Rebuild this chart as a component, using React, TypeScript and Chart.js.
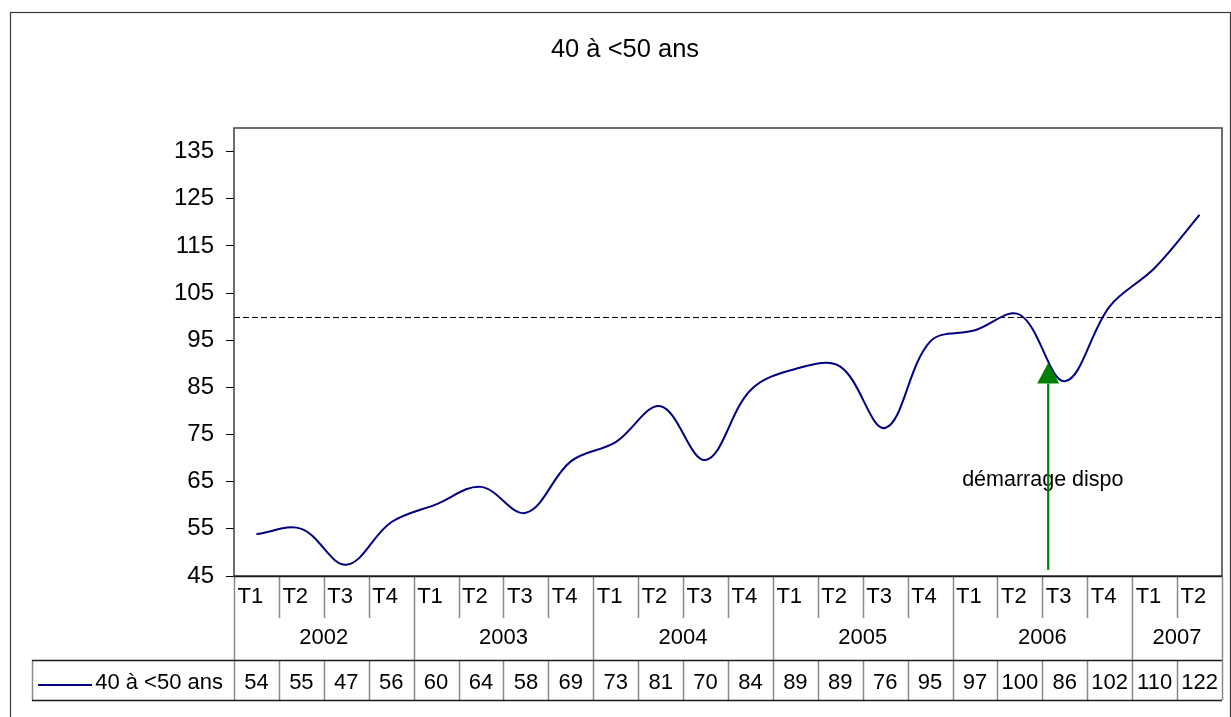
import React, { useEffect, useRef } from "react";
import { Chart, registerables } from "chart.js";

Chart.register(...registerables);

// ---- data ----
const chartTitle = "40 à <50 ans";
const seriesName = "40 à <50 ans";
const quarterLabels = [
  "T1", "T2", "T3", "T4",
  "T1", "T2", "T3", "T4",
  "T1", "T2", "T3", "T4",
  "T1", "T2", "T3", "T4",
  "T1", "T2", "T3", "T4",
  "T1", "T2",
];
const yearLabels = ["2002", "2003", "2004", "2005", "2006", "2007"];
const quartersPerYear = [4, 4, 4, 4, 4, 2];
const seriesValues = [
  53.9, 55.0, 47.4, 56.4,
  60.2, 63.9, 58.4, 69.3,
  73.4, 81.0, 69.6, 84.4,
  88.9, 89.4, 76.4, 94.7,
  97.1, 100.4, 86.3, 102.2,
  110.3, 121.6,
];
const yTickValues = [45, 55, 65, 75, 85, 95, 105, 115, 125, 135];
const yMin = 45;
const yMax = 140;
const referenceValue = 100;
const annotationText = "démarrage dispo";
const arrowCategory = 17.63;
const arrowFrom = 46.3;
const arrowBase = 85.8;
const arrowTip = 90.2;
const annotationCategory = 17.51;
const annotationValue = 64.1;

const FONT = '"Liberation Sans", Arial, sans-serif';

const excelPlugin = {
  id: "excelDecor",
  beforeDatasetsDraw(chart: any) {
    const { ctx, chartArea, scales } = chart;
    const yy = Math.round(scales.y.getPixelForValue(referenceValue)) + 0.5;
    ctx.save();
    ctx.strokeStyle = "#000";
    ctx.lineWidth = 1;
    ctx.setLineDash([6, 3]);
    ctx.beginPath();
    ctx.moveTo(chartArea.left, yy);
    ctx.lineTo(chartArea.right, yy);
    ctx.stroke();
    ctx.restore();
  },
  afterDatasetsDraw(chart: any) {
    const { ctx, scales } = chart;
    const x = scales.x;
    const y = scales.y;
    ctx.save();
    // annotation text
    ctx.fillStyle = "#000";
    ctx.font = `21.5px ${FONT}`;
    ctx.textAlign = "center";
    ctx.textBaseline = "alphabetic";
    ctx.fillText(annotationText, x.getPixelForValue(annotationCategory), y.getPixelForValue(annotationValue));
    // arrow
    const ax = x.getPixelForValue(arrowCategory);
    ctx.strokeStyle = "#008000";
    ctx.fillStyle = "#008000";
    ctx.lineWidth = 2.2;
    ctx.beginPath();
    ctx.moveTo(ax, y.getPixelForValue(arrowFrom));
    ctx.lineTo(ax, y.getPixelForValue(arrowBase));
    ctx.stroke();
    const by = y.getPixelForValue(arrowBase);
    const ty = y.getPixelForValue(arrowTip);
    ctx.beginPath();
    ctx.moveTo(ax - 11, by);
    ctx.lineTo(ax + 11, by);
    ctx.lineTo(ax, ty);
    ctx.closePath();
    ctx.fill();
    ctx.restore();
  },
  afterDraw(chart: any) {
    const { ctx, chartArea, scales } = chart;
    const { left, right, top, bottom } = chartArea;
    const x = scales.x;
    const n = quarterLabels.length;
    const w = x.getPixelForValue(1) - x.getPixelForValue(0);
    const edge = (i: number) => x.getPixelForValue(i) - w / 2;
    const rowT = bottom + 42;
    const rowY = bottom + 84;
    const rowV = bottom + 124;
    const legendLeft = 32;
    ctx.save();

    // outer chart border
    ctx.strokeStyle = "#3a3a3a";
    ctx.lineWidth = 1.2;
    ctx.strokeRect(10.5, 12.5, 1220, 730);

    // title
    ctx.fillStyle = "#000";
    ctx.font = `25.5px ${FONT}`;
    ctx.textAlign = "center";
    ctx.textBaseline = "alphabetic";
    ctx.fillText(chartTitle, 625, 56.5);

    // plot frame
    ctx.strokeStyle = "#404040";
    ctx.lineWidth = 1.5;
    ctx.strokeRect(left, top, right - left, bottom - top);

    // vertical separators (gray)
    ctx.strokeStyle = "#8a8a8a";
    ctx.lineWidth = 1.5;
    const yearEdges: number[] = [0];
    let acc = 0;
    quartersPerYear.forEach((q) => {
      acc += q;
      yearEdges.push(acc);
    });
    for (let i = 0; i <= n; i++) {
      const px = Math.round(edge(i)) + 0.5;
      const isYear = yearEdges.includes(i);
      ctx.beginPath();
      if (isYear) {
        ctx.moveTo(px, bottom);
        ctx.lineTo(px, rowV);
      } else {
        ctx.moveTo(px, bottom);
        ctx.lineTo(px, rowT);
        ctx.moveTo(px, rowY);
        ctx.lineTo(px, rowV);
      }
      ctx.stroke();
    }
    // legend cell left edge
    ctx.beginPath();
    ctx.moveTo(legendLeft + 0.5, rowY);
    ctx.lineTo(legendLeft + 0.5, rowV);
    ctx.stroke();

    // horizontal lines (dark)
    ctx.strokeStyle = "#1a1a1a";
    ctx.lineWidth = 1.3;
    ctx.beginPath();
    ctx.moveTo(left, bottom + 0.5);
    ctx.lineTo(right, bottom + 0.5);
    ctx.moveTo(legendLeft, rowY + 0.5);
    ctx.lineTo(right, rowY + 0.5);
    ctx.moveTo(legendLeft, rowV + 0.5);
    ctx.lineTo(right, rowV + 0.5);
    ctx.stroke();

    // texts
    ctx.fillStyle = "#000";
    ctx.font = `22px ${FONT}`;
    ctx.textBaseline = "alphabetic";
    ctx.textAlign = "left";
    quarterLabels.forEach((lab, i) => {
      ctx.fillText(lab, edge(i) + 3.5, bottom + 27);
    });
    ctx.textAlign = "center";
    yearLabels.forEach((lab, k) => {
      const cx = (edge(yearEdges[k]) + edge(yearEdges[k + 1])) / 2;
      ctx.fillText(lab, cx, bottom + 68);
    });
    seriesValues.forEach((v, i) => {
      ctx.fillText(String(Math.round(v)), x.getPixelForValue(i), bottom + 113);
    });
    // legend key
    ctx.textAlign = "right";
    ctx.fillText(seriesName, left - 11, bottom + 113);
    ctx.strokeStyle = "#000080";
    ctx.lineWidth = 2;
    ctx.beginPath();
    ctx.moveTo(38, bottom + 109);
    ctx.lineTo(92, bottom + 109);
    ctx.stroke();

    ctx.restore();
  },
};

export default function App() {
  const canvasRef = useRef<HTMLCanvasElement | null>(null);

  useEffect(() => {
    if (!canvasRef.current) return;
    const chart = new Chart(canvasRef.current, {
      type: "line",
      data: {
        labels: quarterLabels,
        datasets: [
          {
            label: seriesName,
            data: seriesValues,
            borderColor: "#000080",
            borderWidth: 2,
            pointRadius: 0,
            tension: 0.36,
            fill: false,
          },
        ],
      },
      options: {
        animation: false,
        responsive: false,
        devicePixelRatio: 1,
        layout: { padding: { top: 128, right: 9, left: 0, bottom: 0 } },
        plugins: {
          legend: { display: false },
          tooltip: { enabled: false },
          title: { display: false },
        },
        scales: {
          x: {
            type: "category",
            offset: true,
            grid: { display: false },
            border: { display: false },
            ticks: { display: false },
            afterFit: (s: any) => {
              s.height = 141;
            },
          },
          y: {
            min: yMin,
            max: yMax,
            afterBuildTicks: (s: any) => {
              s.ticks = yTickValues.map((v) => ({ value: v }));
            },
            afterFit: (s: any) => {
              s.width = 234;
            },
            grid: {
              display: true,
              drawOnChartArea: false,
              drawTicks: true,
              tickLength: 8,
              color: "#000",
              lineWidth: 1,
            },
            border: { display: false },
            ticks: {
              color: "#000",
              padding: 12,
              font: { family: FONT, size: 24 },
            },
          },
        },
      },
      plugins: [excelPlugin],
    } as any);
    return () => chart.destroy();
  }, []);

  return (
    <div style={{ position: "absolute", left: 0, top: 0, width: 1231, height: 717, background: "#fff" }}>
      <canvas ref={canvasRef} width={1231} height={717} style={{ display: "block" }} />
    </div>
  );
}
